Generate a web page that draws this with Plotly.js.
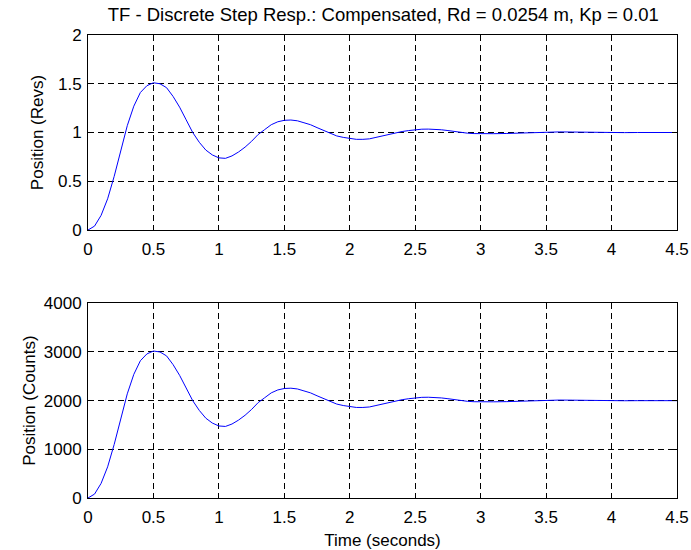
<!DOCTYPE html>
<html>
<head>
<meta charset="utf-8">
<script src="https://cdn.plot.ly/plotly-3.0.1.min.js"></script>
<style>html,body{margin:0;padding:0;background:#fff;}#chart{width:691px;height:550px;}</style>
</head>
<body>
<div id="chart"></div>
<script>
var timeSec = [0,0.05,0.1,0.15,0.2,0.25,0.3,0.35,0.4,0.45,0.5,0.55,0.6,0.65,0.7,0.75,0.8,0.85,0.9,0.95,
  1.0,1.05,1.1,1.15,1.2,1.25,1.3,1.35,1.4,1.45,1.5,1.55,1.6,1.65,1.7,1.75,1.8,1.85,1.9,1.95,
  2.0,2.05,2.1,2.15,2.2,2.25,2.3,2.35,2.4,2.45,2.5,2.55,2.6,2.65,2.7,2.75,2.8,2.85,2.9,2.95,
  3.0,3.1,3.2,3.3,3.4,3.5,3.6,3.7,3.8,3.9,4.0,4.1,4.2,4.3,4.4,4.5];
var posRevs = [0,0.04,0.15,0.32,0.55,0.82,1.07,1.27,1.41,1.48,1.51,1.50,1.46,1.37,1.26,1.13,1.00,0.90,0.82,0.77,
  0.74,0.735,0.76,0.80,0.85,0.91,0.98,1.03,1.08,1.11,1.125,1.128,1.12,1.10,1.08,1.05,1.02,0.99,0.965,0.95,
  0.94,0.93,0.93,0.935,0.95,0.965,0.985,1.0,1.01,1.02,1.028,1.034,1.035,1.033,1.028,1.02,1.01,1.0,0.993,0.989,
  0.987,0.988,0.99,0.995,1.0,1.004,1.006,1.005,1.002,1.0,0.999,0.999,1.0,1.0,1.0,1.0];
var posCounts = [0,80,300,640,1100,1640,2140,2540,2820,2960,3020,3000,2920,2740,2520,2260,2000,1800,1640,1540,
  1480,1470,1520,1600,1700,1820,1960,2060,2160,2220,2250,2256,2240,2200,2160,2100,2040,1980,1930,1900,
  1880,1860,1860,1870,1900,1930,1970,2000,2020,2040,2056,2068,2070,2066,2056,2040,2020,2000,1986,1978,
  1974,1976,1980,1990,2000,2008,2012,2010,2004,2000,1998,1998,2000,2000,2000,2000];
var xTicks = [0,0.5,1,1.5,2,2.5,3,3.5,4,4.5];
var xTickText = ['0','0.5','1','1.5','2','2.5','3','3.5','4','4.5'];
var yTopTicks = [0,0.5,1,1.5,2];
var yTopText = ['0','0.5','1','1.5','2'];
var yBotTicks = [0,1000,2000,3000,4000];
var yBotText = ['0','1000','2000','3000','4000'];

var F = 'Liberation Sans, Arial, sans-serif';
var FS = 17;
var traces = [
  {x: timeSec, y: posRevs, type: 'scatter', mode: 'lines', line: {color: '#0000ff', width: 1}, xaxis: 'x', yaxis: 'y', hoverinfo: 'none'},
  {x: timeSec, y: posCounts, type: 'scatter', mode: 'lines', line: {color: '#0000ff', width: 1}, xaxis: 'x2', yaxis: 'y2', hoverinfo: 'none'}
];
function ax(extra) {
  var a = {showline: true, linecolor: '#000', linewidth: 1, mirror: 'ticks', ticks: 'inside', ticklen: 5,
    tickcolor: '#000', showgrid: true, gridcolor: '#000', griddash: '6px,4px', gridwidth: 1,
    zeroline: false, tickfont: {family: F, size: FS, color: '#000'}, fixedrange: true};
  for (var k in extra) a[k] = extra[k];
  return a;
}
var layout = {
  width: 691, height: 550, showlegend: false,
  paper_bgcolor: '#fff', plot_bgcolor: '#fff',
  margin: {l: 88, r: 14, t: 35, b: 52},
  title: {text: 'TF - Discrete Step Resp.: Compensated, Rd = 0.0254 m, Kp = 0.01',
    font: {family: F, size: 18.5, color: '#000'}, x: 0.5547, xanchor: 'center', xref: 'container',
    y: 1 - 15/550, yanchor: 'middle', yref: 'container'},
  xaxis: ax({domain: [0, 1], range: [0, 4.5], tickvals: xTicks, ticktext: xTickText, anchor: 'y', ticklabelstandoff: 4}),
  yaxis: ax({domain: [0.5788, 1], range: [0, 2], tickvals: yTopTicks, ticktext: yTopText, anchor: 'x', ticklabelstandoff: 2,
    title: {text: 'Position (Revs)', font: {family: F, size: FS, color: '#000'}, standoff: 10}}),
  xaxis2: ax({domain: [0, 1], range: [0, 4.5], tickvals: xTicks, ticktext: xTickText, anchor: 'y2', ticklabelstandoff: 4,
    title: {text: 'Time (seconds)', font: {family: F, size: FS, color: '#000'}, standoff: 8}}),
  yaxis2: ax({domain: [0, 0.4205], range: [0, 4000], tickvals: yBotTicks, ticktext: yBotText, anchor: 'x2', ticklabelstandoff: 2,
    title: {text: 'Position (Counts)', font: {family: F, size: FS, color: '#000'}, standoff: 3}})
};
Plotly.newPlot('chart', traces, layout, {displayModeBar: false, staticPlot: true});
</script>
</body>
</html>
